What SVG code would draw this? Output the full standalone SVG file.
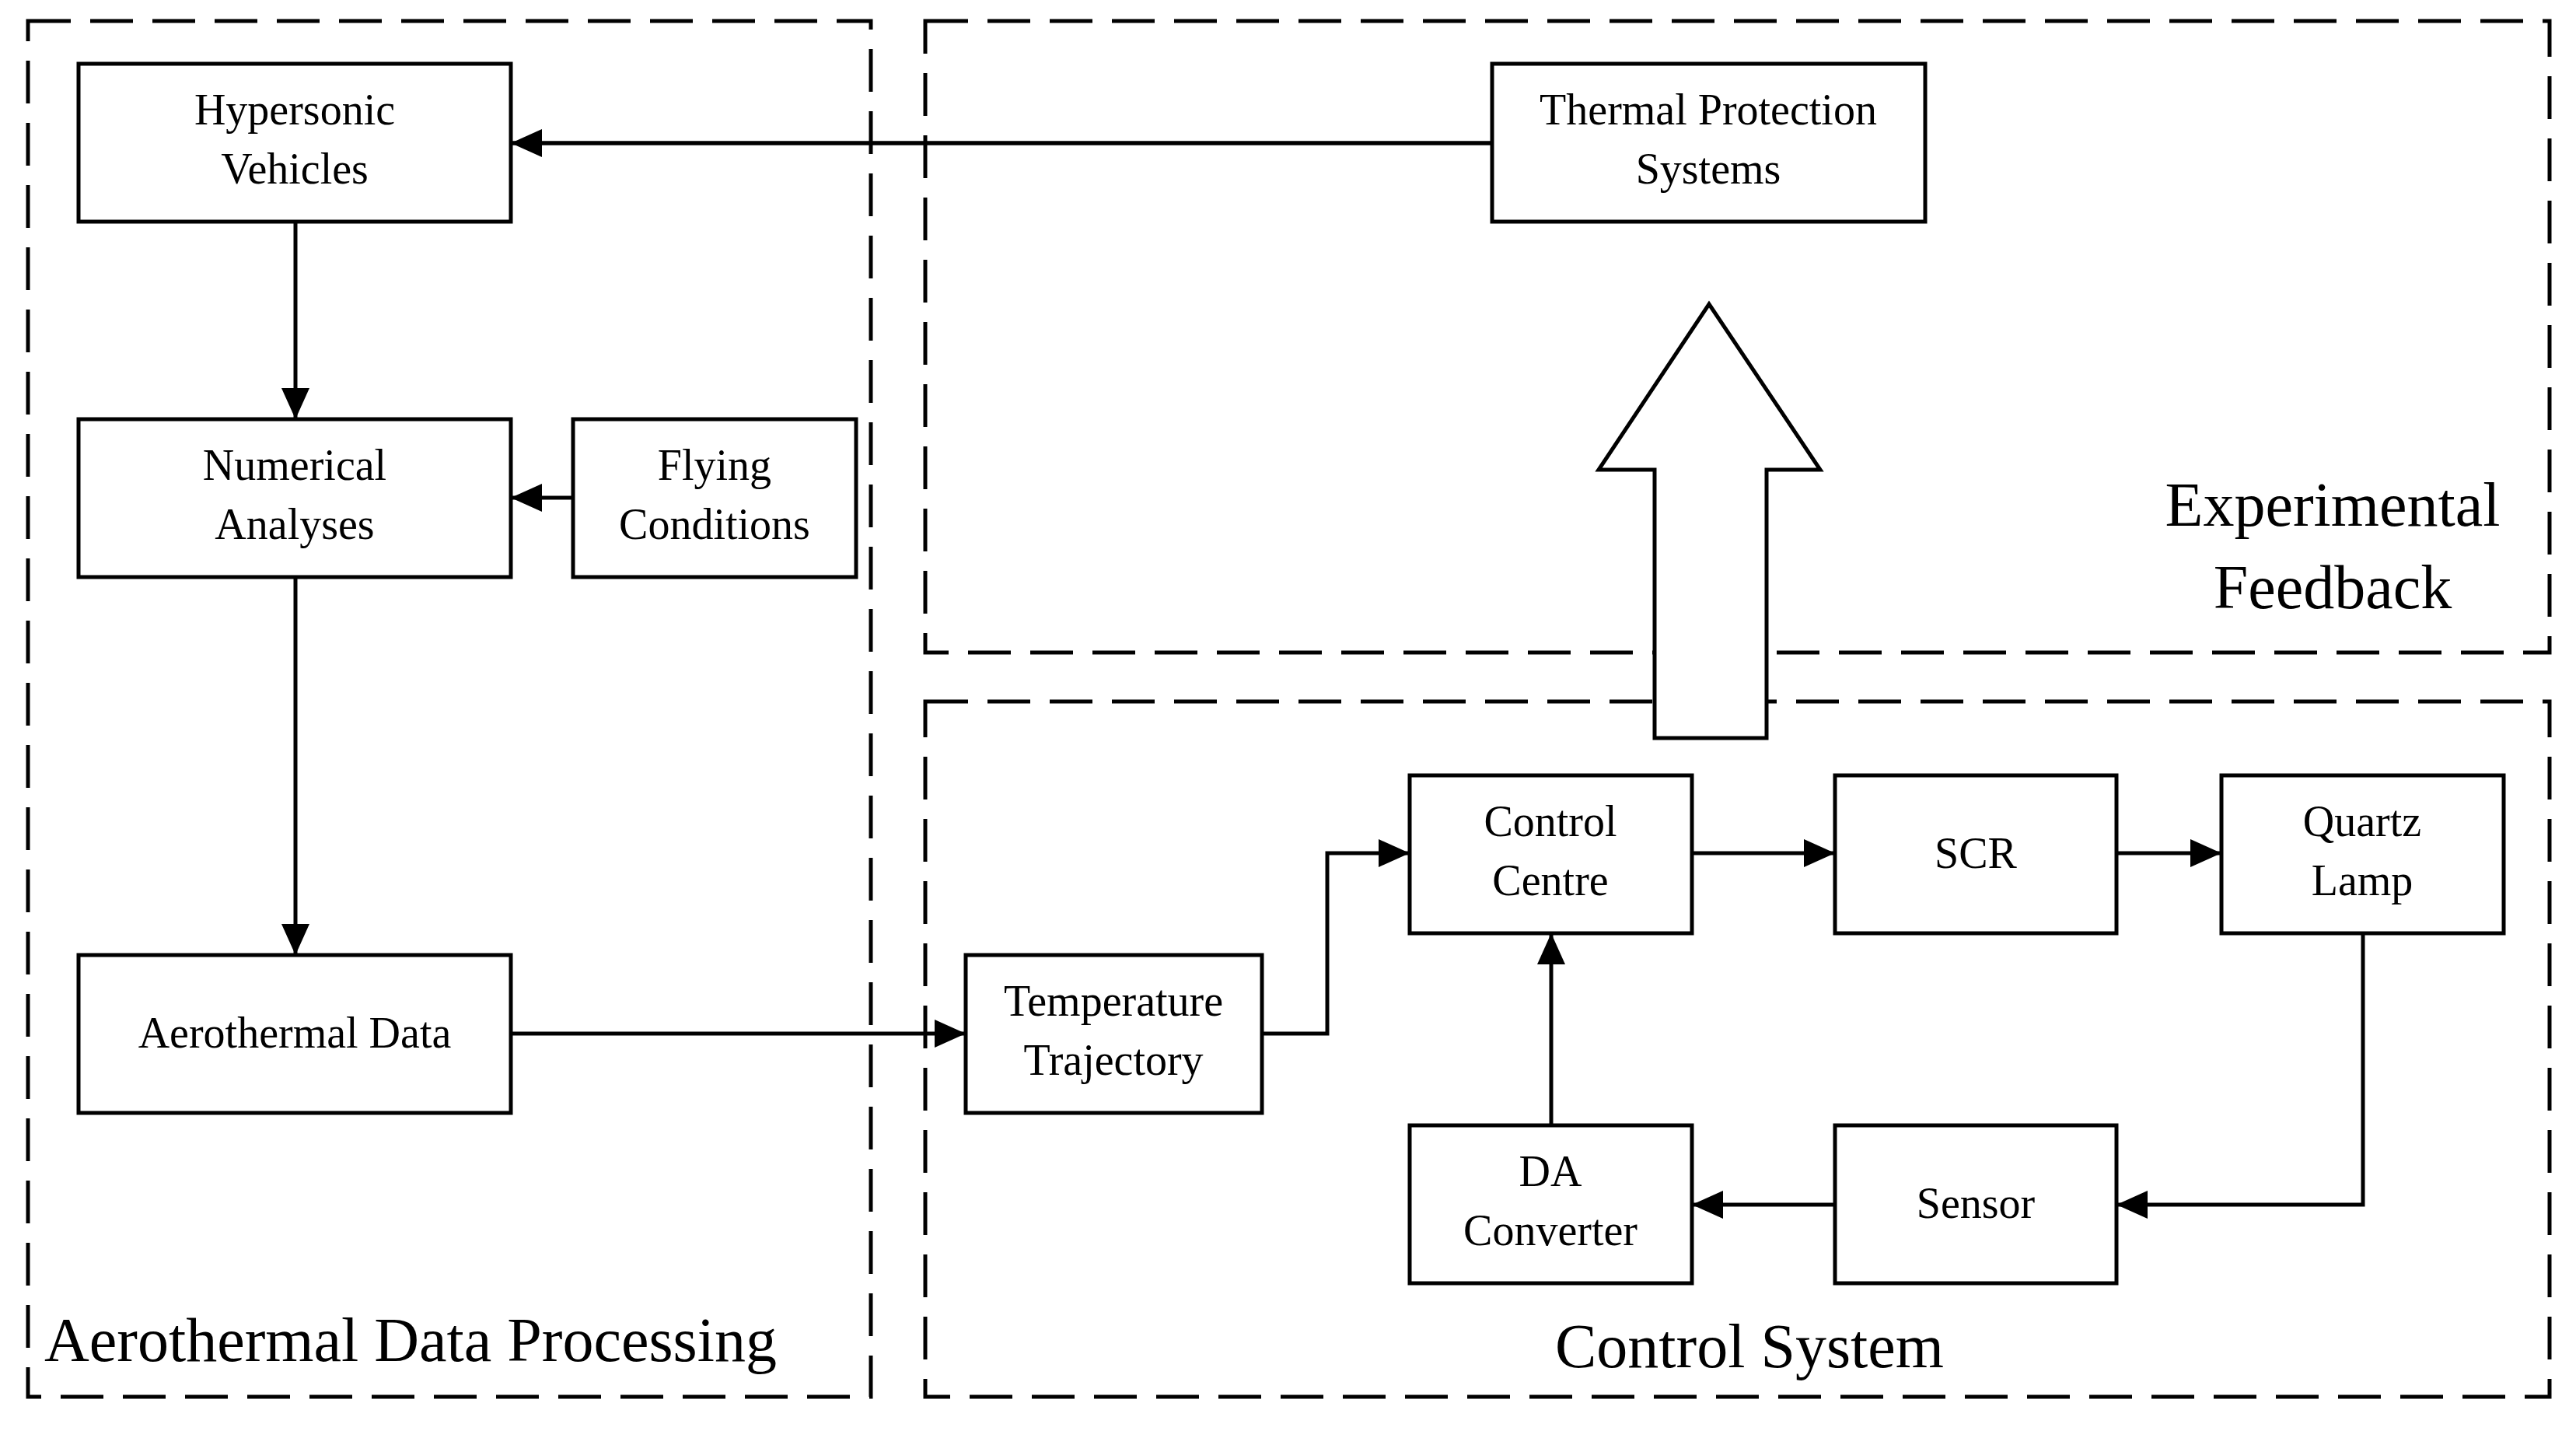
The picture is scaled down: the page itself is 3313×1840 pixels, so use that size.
<svg xmlns="http://www.w3.org/2000/svg" width="3313" height="1840" viewBox="0 0 3313 1840">
<style>
.n{fill:#fff;stroke:#000;stroke-width:5}
.t{font-family:"Liberation Serif",serif;font-size:56px;text-anchor:middle;fill:#000}
.b{fill:none;stroke:#000;stroke-width:5;stroke-dasharray:55 25}
.c{fill:none;stroke:#000;stroke-width:5;marker-end:url(#a)}
.s{font-family:"Liberation Serif",serif;font-size:80px;fill:#000}
</style>
<defs><marker id="a" markerWidth="10" markerHeight="8" refX="10" refY="4" orient="auto" markerUnits="userSpaceOnUse" viewBox="0 0 10 8"><path d="M0,0L10,4L0,8z"/></marker></defs>
<rect width="3313" height="1840" fill="#fff"/>
<g id="groups">
<rect class="b" x="36" y="27" width="1084" height="1769"/>
<rect class="b" x="1190" y="27" width="2089" height="812"/>
<rect class="b" x="1190" y="902" width="2089" height="894"/>
<text class="s" x="57" y="1750">Aerothermal Data Processing</text>
<text class="s" x="2250" y="1758" text-anchor="middle">Control System</text>
<text class="s" x="3000" y="676" text-anchor="middle">Experimental</text>
<text class="s" x="3000" y="782" text-anchor="middle">Feedback</text>
</g>
<g id="connectors">
<path class="c" d="M1919,184H657" marker-end="url(#a)" style="marker-end:none"/>
<path d="M1919,184H657" fill="none" stroke="#000" stroke-width="5"/>
<path d="M657,184l40,-18v36z"/>
<path class="c" d="M380,285V539" style="marker-end:none"/><path d="M380,539l-18,-40h36z"/>
<path class="c" d="M737,640H657" style="marker-end:none"/><path d="M657,640l40,-18v36z"/>
<path class="c" d="M380,742V1228" style="marker-end:none"/><path d="M380,1228l-18,-40h36z"/>
<path class="c" d="M657,1329H1242" style="marker-end:none"/><path d="M1242,1329l-40,-18v36z"/>
<path class="c" d="M1623,1329H1707V1097H1813" style="marker-end:none"/><path d="M1813,1097l-40,-18v36z"/>
<path class="c" d="M2176,1097H2360" style="marker-end:none"/><path d="M2360,1097l-40,-18v36z"/>
<path class="c" d="M2722,1097H2857" style="marker-end:none"/><path d="M2857,1097l-40,-18v36z"/>
<path class="c" d="M3039,1200V1549H2722" style="marker-end:none"/><path d="M2722,1549l40,-18v36z"/>
<path class="c" d="M2360,1549H2176" style="marker-end:none"/><path d="M2176,1549l40,-18v36z"/>
<path class="c" d="M1995,1447V1200" style="marker-end:none"/><path d="M1995,1200l-18,40h36z"/>
<path d="M2128,949V604H2056L2198,391L2341,604H2272V949Z" fill="#fff" stroke="#000" stroke-width="5"/>
</g>
<g id="hyp"><rect class="n" x="101" y="82" width="556" height="203"/><text class="t" x="379" y="160">Hypersonic</text><text class="t" x="379" y="236">Vehicles</text></g>
<g id="num"><rect class="n" x="101" y="539" width="556" height="203"/><text class="t" x="379" y="617">Numerical</text><text class="t" x="379" y="693">Analyses</text></g>
<g id="fly"><rect class="n" x="737" y="539" width="364" height="203"/><text class="t" x="919" y="617">Flying</text><text class="t" x="919" y="693">Conditions</text></g>
<g id="aero"><rect class="n" x="101" y="1228" width="556" height="203"/><text class="t" x="379" y="1347">Aerothermal Data</text></g>
<g id="tps"><rect class="n" x="1919" y="82" width="557" height="203"/><text class="t" x="2197" y="160">Thermal Protection</text><text class="t" x="2197" y="236">Systems</text></g>
<g id="temp"><rect class="n" x="1242" y="1228" width="381" height="203"/><text class="t" x="1432" y="1306">Temperature</text><text class="t" x="1432" y="1382">Trajectory</text></g>
<g id="cc"><rect class="n" x="1813" y="997" width="363" height="203"/><text class="t" x="1994" y="1075">Control</text><text class="t" x="1994" y="1151">Centre</text></g>
<g id="scr"><rect class="n" x="2360" y="997" width="362" height="203"/><text class="t" x="2541" y="1116">SCR</text></g>
<g id="quartz"><rect class="n" x="2857" y="997" width="363" height="203"/><text class="t" x="3038" y="1075">Quartz</text><text class="t" x="3038" y="1151">Lamp</text></g>
<g id="da"><rect class="n" x="1813" y="1447" width="363" height="203"/><text class="t" x="1994" y="1525">DA</text><text class="t" x="1994" y="1601">Converter</text></g>
<g id="sensor"><rect class="n" x="2360" y="1447" width="362" height="203"/><text class="t" x="2541" y="1566">Sensor</text></g>
</svg>
